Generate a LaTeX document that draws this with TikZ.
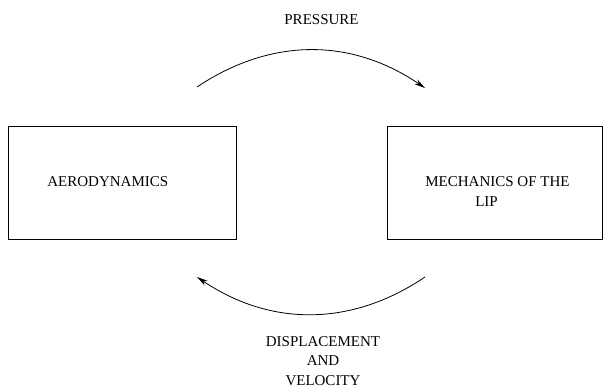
\documentclass[tikz,border=0pt]{standalone}
\usepackage{fontspec}
\setmainfont{Liberation Serif}
\usetikzlibrary{arrows.meta}

\begin{document}
\begin{tikzpicture}[x=1pt, y=-1pt, line width=0.8pt,
    block/.style={draw, rectangle, inner sep=0pt},
    label/.style={font=\fontsize{15}{19.5}\selectfont, inner sep=0pt, align=center},
    flow/.style={-{Stealth[length=11pt, width=5.5pt]}}]
        \useasboundingbox (0, 0) rectangle (603, 388);

        % the two boxes
        \node[block, minimum width=228pt, minimum height=113pt] (aero) at (122, 182.5) {};
        \node[block, minimum width=215pt, minimum height=113pt] (mech) at (494.5, 182.5) {};

        \node[label, anchor=base west] (aerotext) at (47, 186) {AERODYNAMICS};
        \node[label] (mechtext) at (497.5, 191.5) {MECHANICS OF THE\\LIP\hspace*{22pt}};

        % the two arcs
        \coordinate (pstart) at (197, 87);
        \coordinate (pend) at (425, 88);
        \coordinate (dstart) at (425, 277);
        \coordinate (dend) at (197, 277);

        \draw[flow] (pstart) to[bend left=34] (pend);
        \draw[flow] (dstart) to[bend left=34] (dend);

        \node[label, anchor=base] (press) at (321.5, 24) {PRESSURE};
        \node[label] (disp) at (323, 361) {DISPLACEMENT\\AND\\VELOCITY};
\end{tikzpicture}
\end{document}
